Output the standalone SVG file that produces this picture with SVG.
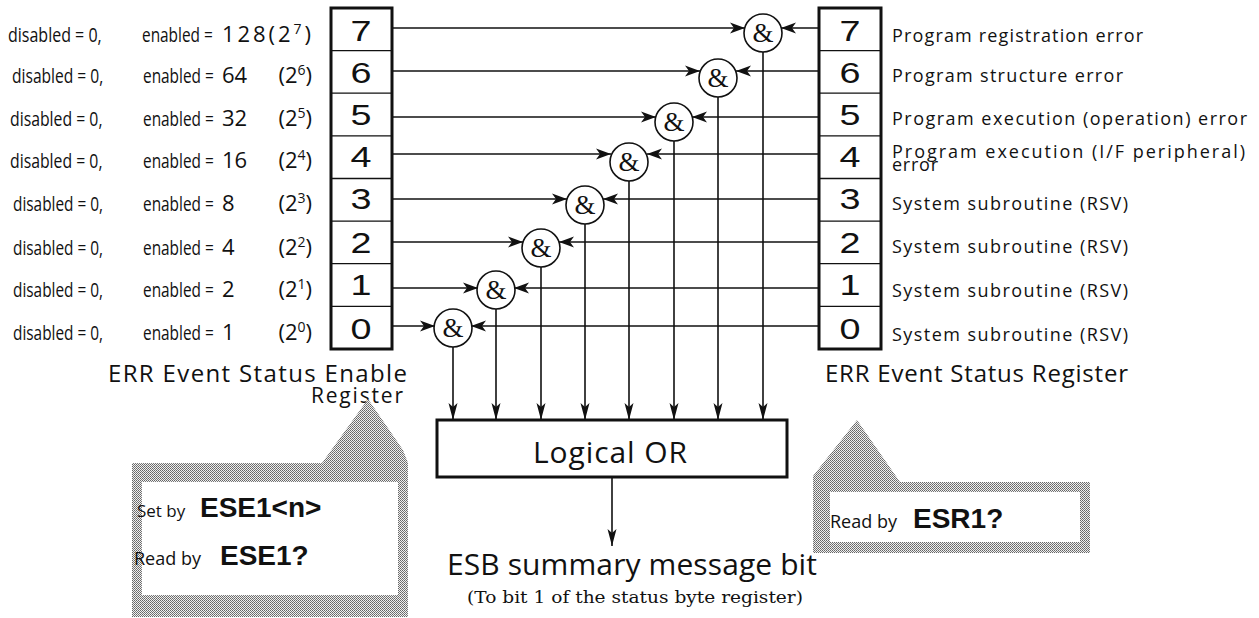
<svg xmlns="http://www.w3.org/2000/svg" width="1259" height="618" viewBox="0 0 1259 618">
<style>
.lbl{font-family:"Open Sans","Noto Sans",sans-serif;font-size:20px;fill:#111}
.n{font-size:22px}
.p{font-size:22px;text-anchor:end}
.rl{font-family:"Open Sans","Noto Sans",sans-serif;font-size:18px;fill:#111}
.ttl{font-family:"Open Sans","Noto Sans",sans-serif;font-size:24px;fill:#111}
.dig{font-family:"Liberation Sans",Arial,sans-serif;font-size:29px;fill:#111;text-anchor:middle}
.reg{fill:#fff;stroke:#111;stroke-width:3}
.div{stroke:#111;stroke-width:1.3}
.wire{stroke:#111;stroke-width:1.6;fill:none}
.gate circle{fill:#fff;stroke:#111;stroke-width:1.6}
.amp{font-family:"Liberation Serif","Times New Roman",serif;font-size:27px;fill:#111;text-anchor:middle}
.cmd{font-family:"Liberation Sans",Arial,sans-serif;font-weight:bold;font-size:28px;fill:#111}
.sm{font-family:"Open Sans","Noto Sans",sans-serif;font-size:17px;fill:#111}
.sup{font-size:14px}
</style>
<defs>
<marker id="ah" markerUnits="userSpaceOnUse" markerWidth="16" markerHeight="12" refX="15" refY="6" orient="auto">
<path d="M0,0.5 L15,6 L0,11.5 L4,6 Z" fill="#111"/>
</marker>
<marker id="av" markerUnits="userSpaceOnUse" markerWidth="18" markerHeight="10" refX="17" refY="5" orient="auto">
<path d="M0,0.5 L17,5 L0,9.5 L4,5 Z" fill="#111"/>
</marker>
<pattern id="dots" width="2" height="2" patternUnits="userSpaceOnUse">
<rect width="2" height="2" fill="#f0f0f0"/>
<rect width="1" height="1" fill="#666"/>
<rect x="1" y="1" width="1" height="1" fill="#7a7a7a"/>
</pattern>
</defs>
<rect width="1259" height="618" fill="#fff"/>

<g id="enable-labels" class="lbl">
<text transform="translate(8 42) scale(0.8 1)">disabled = 0,</text>
<text transform="translate(142 42) scale(0.77 1)">enabled =</text>
<text class="n" x="222" y="42" textLength="89" lengthAdjust="spacing">128(2<tspan class="sup" dy="-8">7</tspan><tspan dy="8">)</tspan></text>
<text transform="translate(12 83) scale(0.78 1)">disabled = 0,</text>
<text transform="translate(143 83) scale(0.77 1)">enabled =</text>
<text class="n" x="222" y="83">64</text>
<text class="p" x="312" y="83">(2<tspan class="sup" dy="-8">6</tspan><tspan dy="8">)</tspan></text>
<text transform="translate(10 126) scale(0.79 1)">disabled = 0,</text>
<text transform="translate(143 126) scale(0.77 1)">enabled =</text>
<text class="n" x="222" y="126">32</text>
<text class="p" x="312" y="126">(2<tspan class="sup" dy="-8">5</tspan><tspan dy="8">)</tspan></text>
<text transform="translate(10 168) scale(0.79 1)">disabled = 0,</text>
<text transform="translate(143 168) scale(0.77 1)">enabled =</text>
<text class="n" x="222" y="168">16</text>
<text class="p" x="312" y="168">(2<tspan class="sup" dy="-8">4</tspan><tspan dy="8">)</tspan></text>
<text transform="translate(13 211) scale(0.77 1)">disabled = 0,</text>
<text transform="translate(143 211) scale(0.77 1)">enabled =</text>
<text class="n" x="222" y="211">8</text>
<text class="p" x="312" y="211">(2<tspan class="sup" dy="-8">3</tspan><tspan dy="8">)</tspan></text>
<text transform="translate(13 255) scale(0.77 1)">disabled = 0,</text>
<text transform="translate(143 255) scale(0.77 1)">enabled =</text>
<text class="n" x="222" y="255">4</text>
<text class="p" x="312" y="255">(2<tspan class="sup" dy="-8">2</tspan><tspan dy="8">)</tspan></text>
<text transform="translate(13 297) scale(0.77 1)">disabled = 0,</text>
<text transform="translate(143 297) scale(0.77 1)">enabled =</text>
<text class="n" x="222" y="297">2</text>
<text class="p" x="312" y="297">(2<tspan class="sup" dy="-8">1</tspan><tspan dy="8">)</tspan></text>
<text transform="translate(13 340) scale(0.77 1)">disabled = 0,</text>
<text transform="translate(143 340) scale(0.77 1)">enabled =</text>
<text class="n" x="222" y="340">1</text>
<text class="p" x="312" y="340">(2<tspan class="sup" dy="-8">0</tspan><tspan dy="8">)</tspan></text>
</g>

<g id="enable-register">
<rect class="reg" x="331" y="8" width="61" height="341"/>
<line class="div" x1="331" y1="50.6" x2="392" y2="50.6"/>
<line class="div" x1="331" y1="93.2" x2="392" y2="93.2"/>
<line class="div" x1="331" y1="135.9" x2="392" y2="135.9"/>
<line class="div" x1="331" y1="178.5" x2="392" y2="178.5"/>
<line class="div" x1="331" y1="221.1" x2="392" y2="221.1"/>
<line class="div" x1="331" y1="263.7" x2="392" y2="263.7"/>
<line class="div" x1="331" y1="306.4" x2="392" y2="306.4"/>
<text class="dig" x="361" y="41" textLength="21" lengthAdjust="spacingAndGlyphs">7</text>
<text class="dig" x="361" y="83" textLength="21" lengthAdjust="spacingAndGlyphs">6</text>
<text class="dig" x="361" y="125" textLength="21" lengthAdjust="spacingAndGlyphs">5</text>
<text class="dig" x="361" y="167" textLength="21" lengthAdjust="spacingAndGlyphs">4</text>
<text class="dig" x="361" y="209" textLength="21" lengthAdjust="spacingAndGlyphs">3</text>
<text class="dig" x="361" y="253" textLength="21" lengthAdjust="spacingAndGlyphs">2</text>
<text class="dig" x="361" y="295" textLength="21" lengthAdjust="spacingAndGlyphs">1</text>
<text class="dig" x="361" y="339" textLength="21" lengthAdjust="spacingAndGlyphs">0</text>
<text class="ttl" x="108" y="382" textLength="299" lengthAdjust="spacing">ERR Event Status Enable</text>
<text class="ttl" x="311" y="403" textLength="92" lengthAdjust="spacing" style="font-size:21px">Register</text>
</g>

<g id="status-register">
<rect class="reg" x="819" y="8" width="62" height="341"/>
<line class="div" x1="819" y1="50.6" x2="881" y2="50.6"/>
<line class="div" x1="819" y1="93.2" x2="881" y2="93.2"/>
<line class="div" x1="819" y1="135.9" x2="881" y2="135.9"/>
<line class="div" x1="819" y1="178.5" x2="881" y2="178.5"/>
<line class="div" x1="819" y1="221.1" x2="881" y2="221.1"/>
<line class="div" x1="819" y1="263.7" x2="881" y2="263.7"/>
<line class="div" x1="819" y1="306.4" x2="881" y2="306.4"/>
<text class="dig" x="850" y="41" textLength="21" lengthAdjust="spacingAndGlyphs">7</text>
<text class="dig" x="850" y="83" textLength="21" lengthAdjust="spacingAndGlyphs">6</text>
<text class="dig" x="850" y="125" textLength="21" lengthAdjust="spacingAndGlyphs">5</text>
<text class="dig" x="850" y="167" textLength="21" lengthAdjust="spacingAndGlyphs">4</text>
<text class="dig" x="850" y="209" textLength="21" lengthAdjust="spacingAndGlyphs">3</text>
<text class="dig" x="850" y="253" textLength="21" lengthAdjust="spacingAndGlyphs">2</text>
<text class="dig" x="850" y="295" textLength="21" lengthAdjust="spacingAndGlyphs">1</text>
<text class="dig" x="850" y="339" textLength="21" lengthAdjust="spacingAndGlyphs">0</text>
<text class="ttl" x="825" y="382" textLength="303" lengthAdjust="spacing">ERR Event Status Register</text>
</g>

<g id="status-labels" class="rl">
<text x="892" y="42" textLength="251" lengthAdjust="spacing">Program registration error</text>
<text x="892" y="82" textLength="231" lengthAdjust="spacing">Program structure error</text>
<text x="892" y="125" textLength="355" lengthAdjust="spacing">Program execution (operation) error</text>
<text x="892" y="158" textLength="353" lengthAdjust="spacing">Program execution (I/F peripheral)</text>
<text x="892" y="171" textLength="46" lengthAdjust="spacing">error</text>
<text x="892" y="210" textLength="236" lengthAdjust="spacing">System subroutine (RSV)</text>
<text x="892" y="253" textLength="236" lengthAdjust="spacing">System subroutine (RSV)</text>
<text x="892" y="297" textLength="236" lengthAdjust="spacing">System subroutine (RSV)</text>
<text x="892" y="341" textLength="236" lengthAdjust="spacing">System subroutine (RSV)</text>
</g>

<g id="connectors" class="wire">
<line x1="392" y1="28" x2="745" y2="28" marker-end="url(#ah)"/>
<line x1="819" y1="28" x2="781" y2="28" marker-end="url(#ah)"/>
<line x1="392" y1="71" x2="700" y2="71" marker-end="url(#ah)"/>
<line x1="819" y1="71" x2="736" y2="71" marker-end="url(#ah)"/>
<line x1="392" y1="117" x2="656" y2="117" marker-end="url(#ah)"/>
<line x1="819" y1="117" x2="692" y2="117" marker-end="url(#ah)"/>
<line x1="392" y1="154" x2="611" y2="154" marker-end="url(#ah)"/>
<line x1="819" y1="154" x2="647" y2="154" marker-end="url(#ah)"/>
<line x1="392" y1="199" x2="567" y2="199" marker-end="url(#ah)"/>
<line x1="819" y1="199" x2="603" y2="199" marker-end="url(#ah)"/>
<line x1="392" y1="242" x2="523" y2="242" marker-end="url(#ah)"/>
<line x1="819" y1="242" x2="559" y2="242" marker-end="url(#ah)"/>
<line x1="392" y1="288" x2="478" y2="288" marker-end="url(#ah)"/>
<line x1="819" y1="288" x2="514" y2="288" marker-end="url(#ah)"/>
<line x1="392" y1="326" x2="435" y2="326" marker-end="url(#ah)"/>
<line x1="819" y1="326" x2="471" y2="326" marker-end="url(#ah)"/>
<line x1="763" y1="52" x2="763" y2="420" marker-end="url(#av)"/>
<line x1="718" y1="97" x2="718" y2="420" marker-end="url(#av)"/>
<line x1="674" y1="141" x2="674" y2="420" marker-end="url(#av)"/>
<line x1="629" y1="181" x2="629" y2="420" marker-end="url(#av)"/>
<line x1="585" y1="224" x2="585" y2="420" marker-end="url(#av)"/>
<line x1="541" y1="267" x2="541" y2="420" marker-end="url(#av)"/>
<line x1="496" y1="309" x2="496" y2="420" marker-end="url(#av)"/>
<line x1="453" y1="347" x2="453" y2="420" marker-end="url(#av)"/>
<line x1="612" y1="478" x2="612" y2="546" marker-end="url(#av)"/>
</g>

<g id="and-gates">
<g class="gate" id="gate7"><circle cx="763" cy="33" r="19"/><text class="amp" x="763" y="42">&amp;</text></g>
<g class="gate" id="gate6"><circle cx="718" cy="78" r="19"/><text class="amp" x="718" y="87">&amp;</text></g>
<g class="gate" id="gate5"><circle cx="674" cy="122" r="19"/><text class="amp" x="674" y="131">&amp;</text></g>
<g class="gate" id="gate4"><circle cx="629" cy="162" r="19"/><text class="amp" x="629" y="171">&amp;</text></g>
<g class="gate" id="gate3"><circle cx="585" cy="205" r="19"/><text class="amp" x="585" y="214">&amp;</text></g>
<g class="gate" id="gate2"><circle cx="541" cy="248" r="19"/><text class="amp" x="541" y="257">&amp;</text></g>
<g class="gate" id="gate1"><circle cx="496" cy="290" r="19"/><text class="amp" x="496" y="299">&amp;</text></g>
<g class="gate" id="gate0"><circle cx="453" cy="328" r="19"/><text class="amp" x="453" y="337">&amp;</text></g>
</g>

<g id="logical-or">
<rect x="437" y="420" width="350" height="57" fill="#fff" stroke="#111" stroke-width="3"/>
<text x="533" y="463" textLength="154" lengthAdjust="spacing" style="font-family:'Open Sans','Noto Sans',sans-serif;font-size:30px;fill:#111">Logical OR</text>
</g>

<g id="esb-output">
<text x="447" y="575" textLength="370" lengthAdjust="spacing" style="font-family:'Open Sans','Noto Sans',sans-serif;font-size:30px;fill:#111">ESB summary message bit</text>
<text x="467" y="603" textLength="336" lengthAdjust="spacingAndGlyphs" style="font-family:'DejaVu Serif','Liberation Serif',serif;font-size:17px;fill:#111">(To bit 1 of the status byte register)</text>
</g>

<g id="callout-ese">
<path d="M132,463 L322,463 L368,399 L403,450 L408,463 L408,617 L132,617 Z" fill="url(#dots)"/>
<rect x="142" y="482" width="256" height="113" fill="#fff"/>
<text x="137" y="517"><tspan class="sm">Set by </tspan><tspan class="cmd" x="200">ESE1&lt;n&gt;</tspan></text>
<text x="134" y="565"><tspan class="sm" style="font-size:18px">Read by </tspan><tspan class="cmd" x="220">ESE1?</tspan></text>
</g>

<g id="callout-esr">
<path d="M813,482 L813,476 L857,420 L900,482 L1090,482 L1090,553 L813,553 Z" fill="url(#dots)"/>
<rect x="830" y="492" width="250" height="50" fill="#fff"/>
<text x="830" y="528"><tspan class="sm" style="font-size:18px">Read by </tspan><tspan class="cmd" x="913">ESR1?</tspan></text>
</g>
</svg>
